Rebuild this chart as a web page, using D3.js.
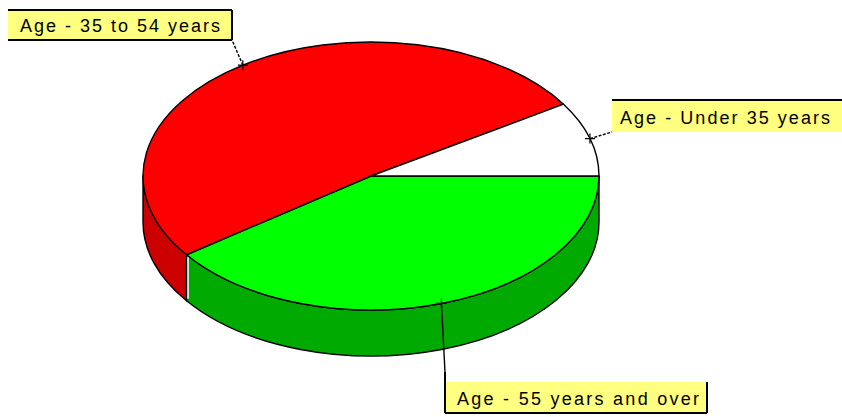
<!DOCTYPE html>
<html>
<head>
<meta charset="utf-8">
<script src="https://cdn.jsdelivr.net/npm/d3@7"></script>
<style>
  body { margin: 0; background: #fff; }
  svg { display: block; }
  .lbl { font-family: "Liberation Sans", Arial, sans-serif; font-size: 18px; fill: #000; }
</style>
</head>
<body>
<svg id="chart" width="842" height="417"></svg>
<script>
// # DATA
// # ------------------------------
var categories = ["Age - 55 years and over", "Age - 35 to 54 years", "Age - Under 35 years"];
var values     = [40, 51, 9];
var topColors  = ["#00ff00", "#ff0000", "#ffffff"];
var sideColors = ["#00aa00", "#cc0000", "#dddddd"];

// # LAYOUT
// # ------------------------------
var cx = 371, cy = 176, rx = 228, ry = 134, depth = 46;

// label boxes, by category index : [x, y, w, h, text width, sides drawn]
var boxes = [
  {x: 445, y: 382, w: 262, h: 31, tw: 242, sides: "lbr"},
  {x: 8,   y: 10,  w: 224, h: 30, tw: 200, sides: "tbr"},
  {x: 612, y: 100, w: 240, h: 32, tw: 210, sides: "t"}
];

var svg = d3.select("#chart");

var topColor  = d3.scaleOrdinal().domain(categories).range(topColors);
var sideColor = d3.scaleOrdinal().domain(categories).range(sideColors);

var pie = d3.pie()
    .sort(null)
    .value(function(d) { return d.value; })
    .startAngle(Math.PI / 2)
    .endAngle(Math.PI / 2 + 2 * Math.PI);

var slices = pie(categories.map(function(c, i) { return {name: c, value: values[i], i: i}; }));

// screen angle (clockwise from 3 o'clock)
var ang = function(a) { return a - Math.PI / 2; };
var pt  = function(t, dy) { return [cx + rx * Math.cos(t), cy + ry * Math.sin(t) + (dy || 0)]; };

// ## side walls (front half only)
// # ------------------------------
var sidePath = function(d) {
  var a0 = Math.max(ang(d.startAngle), 0),
      a1 = Math.min(ang(d.endAngle), Math.PI);
  if (a1 <= a0) return null;
  var p0 = pt(a0), p1 = pt(a1), q1 = pt(a1, depth), q0 = pt(a0, depth);
  return "M" + p0 + " A" + rx + "," + ry + " 0 0 1 " + p1 +
         " L" + q1 + " A" + rx + "," + ry + " 0 0 0 " + q0 + " Z";
};

svg.append("g").selectAll("path")
  .data(slices.filter(function(d) { return sidePath(d) !== null; }))
  .enter().append("path")
  .attr("d", sidePath)
  .attr("fill", function(d) { return sideColor(d.data.name); })
  .attr("stroke", "#000")
  .attr("stroke-width", 1.4)
  .attr("stroke-linejoin", "round");

// highlight on the side edge where red meets green
var edge = pt(ang(slices[0].endAngle));
svg.append("line")
  .attr("x1", edge[0] + 1.5).attr("y1", edge[1] + 2)
  .attr("x2", edge[0] + 1.5).attr("y2", edge[1] + depth - 2)
  .attr("stroke", "#fff").attr("stroke-width", 1.5);

// ## top face
// # ------------------------------
var topPath = function(d) {
  var t0 = ang(d.startAngle), t1 = ang(d.endAngle);
  var large = (t1 - t0) > Math.PI ? 1 : 0;
  return "M" + cx + "," + cy + " L" + pt(t0) +
         " A" + rx + "," + ry + " 0 " + large + " 1 " + pt(t1) + " Z";
};

svg.append("g").selectAll("path")
  .data(slices)
  .enter().append("path")
  .attr("d", topPath)
  .attr("fill", function(d) { return topColor(d.data.name); })
  .attr("stroke", "#000")
  .attr("stroke-width", 1.4)
  .attr("stroke-linejoin", "round");

// ## callouts
// # ------------------------------
var g = svg.append("g");

slices.forEach(function(d, i) {
  var m = pt(ang((d.startAngle + d.endAngle) / 2));
  var b = boxes[i];

  // cross marker at slice mid arc
  g.append("path")
    .attr("d", "M" + (m[0] - 5) + "," + m[1] + "h10M" + m[0] + "," + (m[1] - 5) + "v10")
    .attr("stroke", "#000").attr("stroke-width", 1.2);

  // leader line to the nearest box corner
  var tx = m[0] < b.x ? b.x : (m[0] > b.x + b.w ? b.x + b.w : m[0]);
  var ty = m[1] < b.y ? b.y : b.y + b.h;
  if (i == 0) { tx = b.x; ty = b.y - 10; }
  g.append("line")
    .attr("x1", m[0]).attr("y1", m[1])
    .attr("x2", tx).attr("y2", ty)
    .attr("stroke", "#000").attr("stroke-width", 1.4)
    .attr("stroke-dasharray", i == 0 ? null : "3,1.5");

  // box
  g.append("rect")
    .attr("x", b.x).attr("y", b.y)
    .attr("width", b.w).attr("height", b.h)
    .attr("fill", "#ffff80");

  var sides = {
    t: [b.x, b.y, b.x + b.w, b.y],
    b: [b.x, b.y + b.h, b.x + b.w, b.y + b.h],
    l: [b.x, b.y - (i == 0 ? 10 : 0), b.x, b.y + b.h],
    r: [b.x + b.w, b.y, b.x + b.w, b.y + b.h]
  };
  b.sides.split("").forEach(function(s) {
    var c = sides[s];
    g.append("line")
      .attr("x1", c[0]).attr("y1", c[1]).attr("x2", c[2]).attr("y2", c[3])
      .attr("stroke", "#000").attr("stroke-width", 2);
  });

  g.append("text")
    .attr("class", "lbl")
    .attr("x", b.x + (i == 2 ? 8 : 12))
    .attr("y", b.y + b.h - 8)
    .attr("textLength", b.tw)
    .attr("lengthAdjust", "spacing")
    .text(d.data.name);
});
</script>
</body>
</html>
